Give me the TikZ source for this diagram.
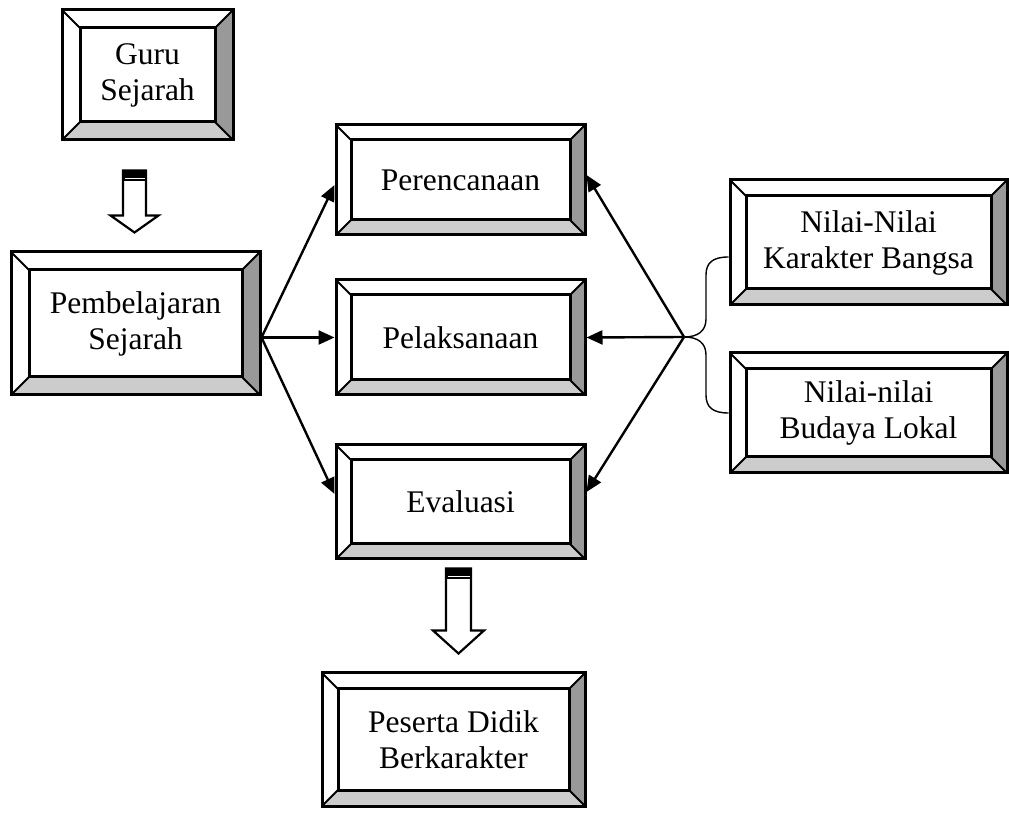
\documentclass[tikz,border=0pt]{standalone}
\usepackage{fontspec}
\setmainfont{Liberation Serif}
\usetikzlibrary{%
  positioning
 ,calc
 ,arrows.meta
}
\tikzset{
  bevel size/.store in=\bevsize, bevel size=16,
  bevelbox/.style={rectangle,draw,line width=3pt,fill=white,inner sep=0pt,
    align=center,font=\fontsize{31.5}{36}\selectfont,
    path picture={
      \coordinate (sw) at (path picture bounding box.south west);
      \coordinate (ne) at (path picture bounding box.north east);
      \coordinate (se) at (sw -| ne);
      \coordinate (nw) at (sw |- ne);
      \fill[black!40] (ne) -- (se) -- ($(se)+(-\bevsize,\bevsize)$) -- ($(ne)+(-\bevsize,-\bevsize)$) -- cycle;
      \fill[black!20] (sw) -- (se) -- ($(se)+(-\bevsize,\bevsize)$) -- ($(sw)+(\bevsize,\bevsize)$) -- cycle;
      \draw[line width=3pt] ($(sw)+(\bevsize,\bevsize)$) rectangle ($(ne)+(-\bevsize,-\bevsize)$);
      \draw[line width=2pt] (sw) -- ++(\bevsize,\bevsize) (se) -- ++(-\bevsize,\bevsize)
                            (ne) -- ++(-\bevsize,-\bevsize) (nw) -- ++(\bevsize,-\bevsize);
    }},
  pointer/.style={line width=2.4pt,-{Triangle[length=16pt,width=14pt]}},
  brace/.style={line width=1.4pt},
  fat/.style={line width=2.2pt,fill=white,line join=miter}
}
% block arrow: top, tip, shaft half width, head half width, head length
\newcommand\fatarrow[5]{%
  \draw[fat] let \p1=(#1), \p2=(#2) in
    (\x1-#3pt,\y1) -- (\x1+#3pt,\y1) -- (\x1+#3pt,\y2+#5pt) -- (\x1+#4pt,\y2+#5pt)
    -- (\x2,\y2) -- (\x1-#4pt,\y2+#5pt) -- (\x1-#3pt,\y2+#5pt) -- cycle;
  \fill let \p1=(#1) in (\x1-#3pt,\y1) rectangle (\x1+#3pt,\y1-11pt);
  \draw[white,line width=1.5pt] let \p1=(#1) in (\x1-#3pt+1.5pt,\y1-8pt) -- (\x1+#3pt-1.5pt,\y1-8pt);
}
\begin{document}
\begin{tikzpicture}[x=1pt,y=1pt]
  \useasboundingbox (0,0) rectangle (1009,814);
  \node[bevelbox,bevel size=18,minimum width=171pt,minimum height=130pt] (guru) at (147.5,739) {Guru\\Sejarah};
  \node[bevelbox,bevel size=18,minimum width=249pt,minimum height=143pt] (pemb) at (135.5,490.5) {Pembelajaran\\Sejarah};
  \node[bevelbox,bevel size=15,minimum width=249pt,minimum height=115pt] (pelak) at (460.5,476.5) {Pelaksanaan};
  \node[bevelbox,bevel size=15,minimum width=249pt,minimum height=110pt] (renc) [above=157.5pt of pelak.center,anchor=center] {Perencanaan};
  \node[bevelbox,bevel size=15,minimum width=249pt,minimum height=114pt] (eval) [below=164.5pt of pelak.center,anchor=center] {Evaluasi};
  \node[bevelbox,minimum width=263pt,minimum height=133pt] (peserta) at (453.5,74.5) {Peserta Didik\\Berkarakter};
  \node[bevelbox,minimum width=277pt,minimum height=125pt] (karakter) at (868.5,571.5) {Nilai-Nilai\\Karakter Bangsa};
  \node[bevelbox,minimum width=277pt,minimum height=120pt] (budaya) [below=170.5pt of karakter.center,anchor=center] {Nilai-nilai\\Budaya Lokal};
%
  \coordinate (src) at (pemb.east |- pelak.west);
  \coordinate (hub) at (684,477);
  \coordinate (bt)  at ($(karakter.west)+(0,-14.5)$);
  \draw[pointer] (src) -- ($(renc.west)+(0,-5)$);
  \draw[pointer] (src) -- (pelak.west);
  \draw[pointer] (src) -- ($(eval.west)+(0,8)$);
  \draw[pointer] (hub) -- ($(renc.east)+(0,5)$);
  \draw[pointer] (hub) -- (pelak.east);
  \draw[pointer] (hub) -- ($(eval.east)+(0,10)$);
  \draw[brace] (bt) .. controls +(-16,0) and +(0,12) .. (706,539) -- (706,495)
    .. controls +(0,-12) and +(14,0) .. (hub)
    .. controls +(14,0) and +(0,12) .. (706,459) -- (706,419)
    .. controls +(0,-12) and +(-16,0) .. (budaya.west);
%
  \coordinate (g1) at ($(guru.south)+(-13,-29)$);
  \coordinate (g2) at ($(pemb.north)+(-1,18)$);
  \coordinate (e1) at ($(eval.south)+(-2,-8)$);
  \coordinate (e2) at ($(peserta.north)+(5,18)$);
  \fatarrow{g1}{g2}{11.5}{24}{17}
  \fatarrow{e1}{e2}{12.5}{25.5}{23}
\end{tikzpicture}
\end{document}
